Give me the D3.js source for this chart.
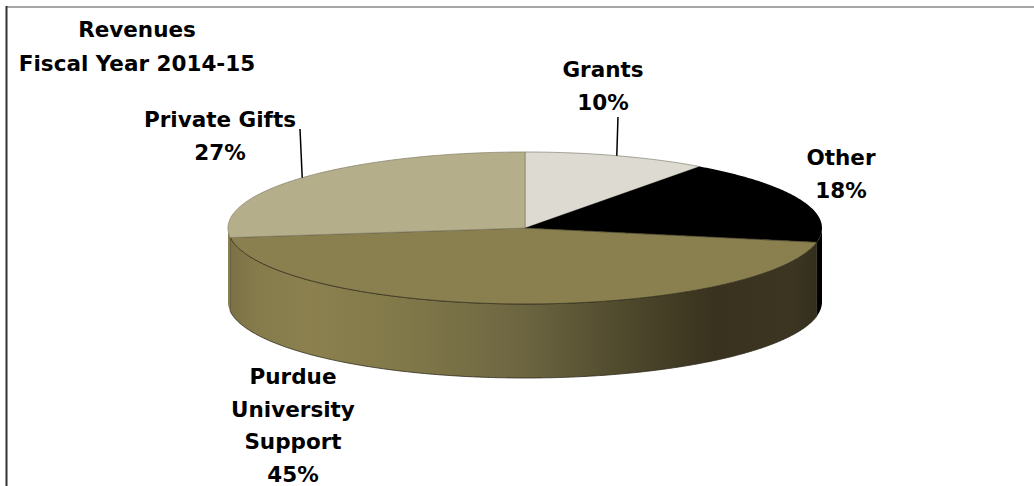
<!DOCTYPE html>
<html>
<head>
<meta charset="utf-8">
<script src="https://cdn.jsdelivr.net/npm/d3@7"></script>
<style>
  html, body { margin: 0; padding: 0; background: #fff; }
  svg { display: block; }
  text { font-family: "DejaVu Sans", sans-serif; font-weight: bold; font-size: 21.5px; fill: #000; }
</style>
</head>
<body>
<svg id="chart" width="1034" height="486"></svg>
<script>
// Revenue sources, fiscal year 2014-15 (percent of total)
const categories = ["Grants", "Other", "Purdue University Support", "Private Gifts"];
const shares = [10, 18, 45, 27];
const labelLines = [["Grants", "10%"], ["Other", "18%"], ["Purdue", "University", "Support", "45%"], ["Private Gifts", "27%"]];
const titleLines = ["Revenues", "Fiscal Year 2014-15"];

const topColors = ["#dddbd1", "#000000", "#8a7f4e", "#b5ae8a"];
const topStrokes = ["#8f8d80", "#000000", "#3a3521", "#8c8670"];

const W = 1034, H = 486;
const cx = 525, cy = 228, rx = 297, ry = 76, depth = 74;

const svg = d3.select("#chart");

// frame lines
svg.append("line").attr("x1", 6).attr("x2", W).attr("y1", 7).attr("y2", 7)
  .attr("stroke", "#a6a6a6").attr("stroke-width", 2);
svg.append("line").attr("x1", 6.5).attr("x2", 6.5).attr("y1", 6).attr("y2", H)
  .attr("stroke", "#333").attr("stroke-width", 2);

// side gradient (lit from the left)
const defs = svg.append("defs");
const grad = defs.append("linearGradient").attr("id", "sideGrad")
  .attr("gradientUnits", "userSpaceOnUse")
  .attr("x1", cx - rx).attr("x2", cx + rx).attr("y1", 0).attr("y2", 0);
[[0, "#7a7044"], [0.05, "#867b4b"], [0.14, "#8b804e"], [0.3, "#817849"], [0.5, "#6c6541"],
 [0.68, "#4d472b"], [0.82, "#38321f"], [0.95, "#3b3522"], [1, "#322d1c"]]
  .forEach(([o, c]) => grad.append("stop").attr("offset", o).attr("stop-color", c));

// pie angles: clockwise starting at 12 o'clock
const pie = d3.pie().sort(null).startAngle(0).endAngle(2 * Math.PI);
const arcs = pie(shares);

// projected ellipse point for angle a (clockwise from top)
const px = a => cx + rx * Math.sin(a);
const py = (a, dy = 0) => cy - ry * Math.cos(a) + dy;
const line = d3.line();

function sample(a0, a1, dy) {
  const n = Math.max(2, Math.ceil(Math.abs(a1 - a0) / 0.01));
  return d3.range(n + 1).map(i => {
    const a = a0 + (a1 - a0) * i / n;
    return [px(a), py(a, dy)];
  });
}

// side walls: only the front half (angles pi/2 .. 3pi/2) is visible
const sideG = svg.append("g");
arcs.forEach((d, i) => {
  const a0 = Math.max(d.startAngle, Math.PI / 2);
  const a1 = Math.min(d.endAngle, 3 * Math.PI / 2);
  if (a1 <= a0) return;
  const pts = sample(a0, a1, 0).concat(sample(a1, a0, depth));
  sideG.append("path")
    .attr("d", line(pts) + "Z")
    .attr("fill", i === 2 ? "url(#sideGrad)" : (i === 1 ? "#000" : "#8a7f4e"))
    .attr("stroke", i === 2 ? "#2e2a1a" : "none")
    .attr("stroke-width", 0.8);
});

// top faces
const topG = svg.append("g");
arcs.forEach((d, i) => {
  const pts = [[cx, cy]].concat(sample(d.startAngle, d.endAngle, 0));
  topG.append("path")
    .attr("d", line(pts) + "Z")
    .attr("fill", topColors[i])
    .attr("stroke", topStrokes[i])
    .attr("stroke-width", i === 1 ? 0 : 0.8)
    .attr("stroke-linejoin", "round");
});

// title
const title = svg.append("text").attr("text-anchor", "middle");
title.selectAll("tspan").data(titleLines).join("tspan")
  .attr("x", 137)
  .attr("y", (d, i) => 37 + i * 34)
  .text(d => d);

// data labels
const labelPos = [
  { x: 603, y: 77 },
  { x: 841, y: 165 },
  { x: 293, y: 384 },
  { x: 220, y: 127 }
];
arcs.forEach((d, i) => {
  const t = svg.append("text").attr("text-anchor", "middle");
  t.selectAll("tspan").data(labelLines[i]).join("tspan")
    .attr("x", labelPos[i].x)
    .attr("y", (s, j) => labelPos[i].y + j * 32.7)
    .text(s => s);
});

// leader lines to slice mid-angles on the rim
const leaders = [
  { i: 0, x: 618, y: 117 },
  { i: 3, x: 300, y: 129 }
];
leaders.forEach(l => {
  const d = arcs[l.i];
  const m = (d.startAngle + d.endAngle) / 2;
  svg.append("line")
    .attr("x1", l.x).attr("y1", l.y)
    .attr("x2", px(m)).attr("y2", py(m))
    .attr("stroke", "#000").attr("stroke-width", 1.5);
});
</script>
</body>
</html>
